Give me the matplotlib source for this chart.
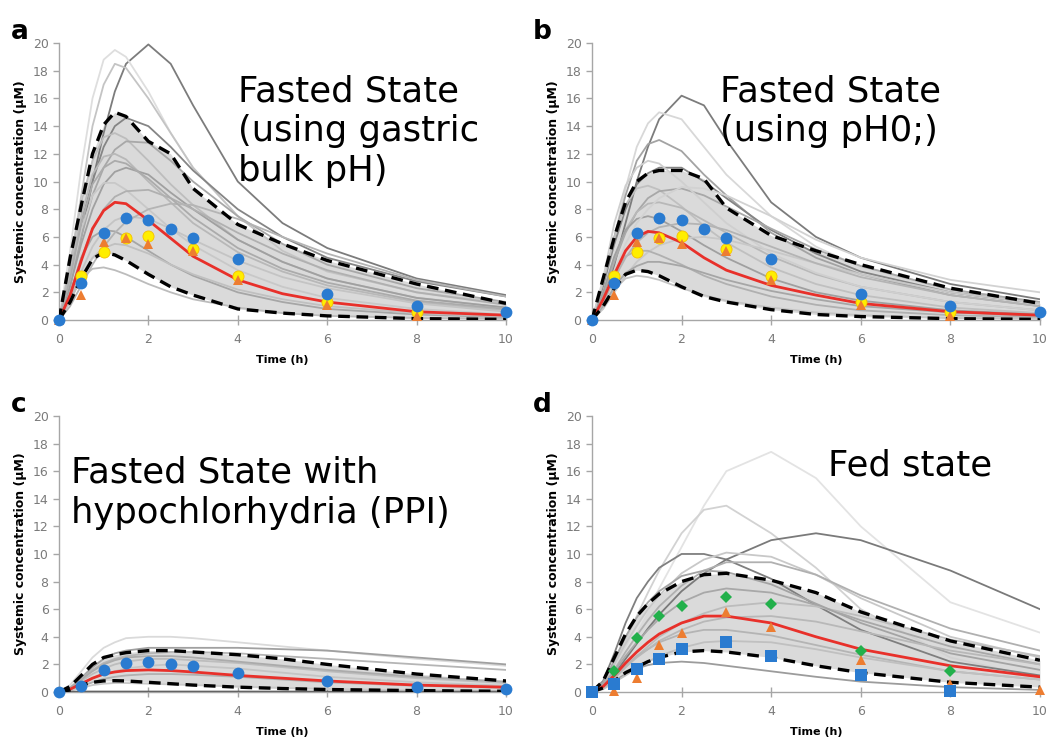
import matplotlib
matplotlib.use("Agg")
import matplotlib.pyplot as plt

##
## data
t = [0, 0.25, 0.5, 0.75, 1, 1.25, 1.5, 2, 2.5, 3, 4, 5, 6, 8, 10]

# panel a - fasted, gastric bulk pH
a_grey = [
    [0, 2.5, 6, 10, 13.5, 16.5, 18.5, 19.9, 18.5, 15.5, 10, 7, 5.2, 3.0, 1.8],
    [0, 5, 11, 16, 18.8, 19.5, 19, 16.5, 13.5, 11, 7.5, 5, 3.5, 1.8, 1.0],
    [0, 4, 9, 14, 17, 18.5, 18.2, 16, 13.5, 11, 7.5, 5, 3.5, 2, 1.2],
    [0, 3, 7, 10, 12.5, 14, 14.6, 14, 12.5, 10.8, 8, 6, 4.5, 2.8, 1.7],
    [0, 4, 8.5, 11.5, 13.2, 13.5, 13.1, 11.5, 9.8, 8.3, 5.8, 4.2, 3.0, 1.6, 0.9],
    [0, 2.5, 6, 9, 11, 12.3, 12.9, 12.8, 11.5, 10, 7.5, 5.5, 4, 2.3, 1.3],
    [0, 3.5, 7.5, 10.5, 11.8, 12, 11.6, 10, 8.5, 7, 4.9, 3.5, 2.5, 1.3, 0.7],
    [0, 2.5, 5.5, 8, 9.8, 10.7, 11, 10.5, 9.2, 8, 5.8, 4.2, 3, 1.6, 0.9],
    [0, 3, 6.5, 9, 9.9, 9.9, 9.4, 8, 6.6, 5.4, 3.6, 2.4, 1.6, 0.8, 0.4],
    [0, 1.8, 4.5, 6.5, 8, 8.9, 9.3, 9.4, 8.8, 8, 6.3, 4.8, 3.6, 2.0, 1.1],
    [0, 1.5, 3.5, 5.3, 6.5, 7.2, 7.5, 7.3, 6.6, 5.8, 4.3, 3.1, 2.3, 1.2, 0.6],
    [0, 2, 4.5, 6, 6.5, 6.4, 6, 5, 4, 3.2, 2, 1.3, 0.8, 0.4, 0.2],
    [0, 1.5, 3, 3.7, 3.8, 3.6, 3.3, 2.6, 2.0, 1.5, 0.9, 0.5, 0.3, 0.15, 0.1],
    [0, 1, 2.5, 4, 5.3, 6.3, 7.1, 8, 8.4, 8.3, 7.3, 6, 4.8, 2.9, 1.7],
    [0, 3, 7, 9.8, 11, 11.5, 11.3, 10.2, 8.8, 7.4, 5.2, 3.7, 2.7, 1.4, 0.8],
    [0, 1.3, 3.2, 4.5, 5.2, 5.5, 5.4, 4.8, 4, 3.3, 2.2, 1.5, 1.0, 0.5, 0.25],
]
a_mean = [0, 1.8, 4.3, 6.6, 7.9, 8.5, 8.4, 7.2, 5.9, 4.6, 2.9, 1.9, 1.3, 0.6, 0.35]
a_hi = [0, 4.5, 8.3, 12, 14.1, 15, 14.7, 12.9, 12, 9.5, 6.9, 5.5, 4.3, 2.6, 1.2]
a_lo = [0, 1.3, 3.0, 4.4, 4.9, 4.7, 4.3, 3.3, 2.4, 1.8, 0.8, 0.5, 0.3, 0.1, 0.05]

# panel b - fasted, pH0
b_grey = [
    [0, 1.5, 4, 7, 10, 12.5, 14.5, 16.2, 15.5, 13, 8.5, 6, 4.5, 2.6, 1.5],
    [0, 2.5, 6, 9.5, 12.5, 14.2, 15, 14.5, 12.5, 10.5, 7.5, 5.3, 3.8, 2.2, 1.3],
    [0, 2.5, 6, 9, 11.5, 12.7, 13, 12.2, 10.5, 9, 6.3, 4.5, 3.3, 1.8, 1.0],
    [0, 2.5, 5.5, 8, 9.8, 10.6, 11, 11, 10, 8.8, 6.5, 4.8, 3.5, 2.0, 1.2],
    [0, 2.7, 6, 8.3, 9.5, 9.7, 9.4, 8.2, 6.8, 5.6, 3.8, 2.6, 1.8, 0.9, 0.5],
    [0, 1.8, 4.2, 6.3, 7.8, 8.8, 9.3, 9.5, 9, 8.2, 6.6, 5.1, 3.9, 2.2, 1.3],
    [0, 2, 4.5, 6.5, 7.8, 8.4, 8.5, 8.1, 7.2, 6.3, 4.6, 3.3, 2.4, 1.3, 0.7],
    [0, 2, 4.6, 6.5, 7.3, 7.5, 7.3, 6.4, 5.4, 4.5, 3.0, 2.0, 1.4, 0.7, 0.4],
    [0, 0.8, 2, 3.2, 4.2, 4.9, 5.4, 5.9, 6.0, 5.8, 5.0, 4.1, 3.3, 2.0, 1.2],
    [0, 1.5, 3.4, 4.6, 5.0, 5.0, 4.7, 4.0, 3.2, 2.6, 1.7, 1.1, 0.7, 0.35, 0.2],
    [0, 1, 2.2, 3, 3.2, 3.1, 2.9, 2.3, 1.8, 1.4, 0.9, 0.55, 0.35, 0.15, 0.1],
    [0, 1, 2.4, 3.4, 3.9, 4.2, 4.2, 3.9, 3.4, 2.9, 2.1, 1.5, 1.0, 0.55, 0.3],
    [0, 3, 7, 9.7, 11, 11.5, 11.3, 10, 8.5, 7, 4.8, 3.4, 2.4, 1.3, 0.7],
    [0, 1.2, 3, 4.5, 5.6, 6.3, 6.7, 7.0, 6.9, 6.5, 5.3, 4.1, 3.1, 1.8, 1.0],
    [0, 1.5, 3.5, 5.5, 7, 8, 8.8, 9.6, 9.5, 9, 7.5, 5.8, 4.5, 2.9, 2.0],
]
b_mean = [0, 1.5, 3.3, 5.0, 6.0, 6.4, 6.3, 5.6, 4.5, 3.6, 2.5, 1.8, 1.2, 0.6, 0.35]
b_hi = [0, 3, 6, 8.5, 10, 10.6, 10.8, 10.8, 10.2, 8.1, 6.1, 5, 4, 2.3, 1.2]
b_lo = [0, 1, 2.3, 3.3, 3.6, 3.5, 3.2, 2.4, 1.7, 1.3, 0.75, 0.4, 0.25, 0.1, 0.05]

# panel c - fasted with hypochlorhydria (PPI)
c_grey = [
    [0, 0.5, 1.5, 2.5, 3.2, 3.6, 3.9, 4.0, 4.0, 3.9, 3.6, 3.3, 3.0, 2.4, 1.9],
    [0, 0.3, 1.0, 1.8, 2.4, 2.8, 3.0, 3.2, 3.2, 3.2, 3.2, 3.1, 3.0, 2.5, 2.0],
    [0, 0.3, 1.0, 1.6, 2.1, 2.4, 2.6, 2.8, 2.9, 2.9, 2.8, 2.6, 2.4, 2.0, 1.6],
    [0, 0.25, 0.8, 1.3, 1.7, 2.0, 2.2, 2.4, 2.4, 2.3, 2.1, 1.8, 1.5, 1.0, 0.65],
    [0, 0.2, 0.6, 1.0, 1.3, 1.5, 1.7, 1.9, 2.0, 1.9, 1.7, 1.4, 1.1, 0.7, 0.45],
    [0, 0.1, 0.4, 0.7, 0.95, 1.1, 1.2, 1.3, 1.3, 1.25, 1.1, 0.9, 0.7, 0.45, 0.3],
    [0, 0.1, 0.3, 0.5, 0.6, 0.65, 0.65, 0.6, 0.55, 0.5, 0.4, 0.3, 0.22, 0.12, 0.07],
    [0, 0.3, 0.9, 1.5, 2.0, 2.3, 2.5, 2.6, 2.6, 2.5, 2.2, 1.9, 1.6, 1.1, 0.75],
    [0, 0.02, 0.03, 0.03, 0.03, 0.03, 0.03, 0.03, 0.03, 0.03, 0.03, 0.03, 0.03, 0.02, 0.02],
]
c_mean = [0, 0.2, 0.6, 1.0, 1.3, 1.45, 1.55, 1.6, 1.55, 1.45, 1.2, 1.0, 0.8, 0.5, 0.35]
c_hi = [0, 0.4, 1.2, 2.0, 2.5, 2.7, 2.85, 3.0, 3.0, 2.9, 2.7, 2.4, 2.0, 1.3, 0.8]
c_lo = [0, 0.15, 0.5, 0.7, 0.8, 0.82, 0.8, 0.7, 0.6, 0.5, 0.35, 0.25, 0.18, 0.1, 0.05]

# panel d - fed state
d_grey = [
    [0, 0.5, 1.5, 3, 4.5, 6, 7.5, 10.5, 13.5, 16, 17.4, 15.5, 12, 6.5, 4.3],
    [0, 0.6, 2, 3.7, 5.5, 7.2, 8.8, 11.5, 13.2, 13.5, 11.5, 9, 6, 2.5, 1.0],
    [0, 0.8, 2.8, 5, 6.8, 8, 9, 10, 10, 9.6, 8.2, 6.3, 4.5, 2.2, 1.2],
    [0, 0.4, 1.3, 2.4, 3.5, 4.6, 5.6, 7.3, 8.6, 9.6, 11, 11.5, 11, 8.8, 6.0],
    [0, 0.6, 2, 3.5, 4.8, 6, 7, 8.6, 9.6, 10.1, 9.8, 8.5, 6.8, 4, 2.5],
    [0, 0.5, 1.6, 2.9, 4.1, 5.2, 6.2, 7.7, 8.8, 9.4, 9.4, 8.5, 7, 4.6, 3.0],
    [0, 0.5, 1.5, 2.6, 3.6, 4.5, 5.3, 6.5, 7.2, 7.5, 7.2, 6.3, 5.2, 3.3, 2.0],
    [0, 0.3, 1, 1.8, 2.6, 3.3, 4, 5, 5.7, 6.2, 6.5, 6.2, 5.5, 3.8, 2.6],
    [0, 0.4, 1.1, 1.9, 2.6, 3.1, 3.6, 4.2, 4.5, 4.5, 4.1, 3.4, 2.7, 1.5, 0.9],
    [0, 0.3, 0.8, 1.3, 1.7, 1.95, 2.1, 2.2, 2.1, 1.9, 1.5, 1.1, 0.75, 0.35, 0.15],
    [0, 0.2, 0.7, 1.2, 1.7, 2.2, 2.6, 3.2, 3.6, 3.7, 3.6, 3.1, 2.5, 1.5, 0.9],
    [0, 0.7, 2.3, 4, 5.4, 6.5, 7.3, 8.4, 8.8, 8.7, 7.8, 6.4, 5.0, 2.8, 1.6],
    [0, 0.3, 1, 1.8, 2.5, 3.1, 3.7, 4.5, 5.1, 5.4, 5.5, 5.1, 4.4, 3.0, 2.0],
]
d_mean = [0, 0.4, 1.2, 2.1, 2.9, 3.6, 4.2, 5.0, 5.5, 5.5, 5.0, 4.0, 3.1, 1.9, 1.1]
d_hi = [0, 0.8, 2.5, 4.2, 5.5, 6.4, 7.1, 8.0, 8.5, 8.6, 8.1, 7.2, 5.8, 3.7, 2.3]
d_lo = [0, 0.3, 0.8, 1.4, 1.8, 2.2, 2.5, 2.9, 3.0, 2.9, 2.5, 1.9, 1.4, 0.7, 0.35]

# observed data, fasted (panels a and b)
obs_blue_t = [0, 0.5, 1, 1.5, 2, 2.5, 3, 4, 6, 8, 10]
obs_blue = [0, 2.7, 6.3, 7.4, 7.2, 6.6, 5.9, 4.4, 1.9, 1.0, 0.6]
obs_orange_t = [0, 0.5, 1, 1.5, 2, 3, 4, 6, 8]
obs_orange = [0, 1.8, 5.6, 5.9, 5.5, 5.0, 2.9, 1.1, 0.3]
obs_yellow_t = [0.5, 1, 1.5, 2, 3, 4, 6, 8]
obs_yellow = [3.2, 4.9, 5.9, 6.1, 5.1, 3.2, 1.3, 0.6]

# observed, PPI (panel c)
ppi_t = [0, 0.5, 1, 1.5, 2, 2.5, 3, 4, 6, 8, 10]
ppi_blue = [0, 0.4, 1.6, 2.1, 2.2, 2.05, 1.9, 1.4, 0.8, 0.35, 0.2]

# observed, fed (panel d)
fed_green_t = [0, 0.5, 1, 1.5, 2, 3, 4, 6, 8]
fed_green = [0, 1.5, 3.9, 5.5, 6.2, 6.9, 6.4, 3.0, 1.5]
fed_orange_t = [0, 0.5, 1, 1.5, 2, 3, 4, 6, 8, 10]
fed_orange = [0, 0.1, 1.0, 3.4, 4.3, 5.8, 4.7, 2.3, 0.6, 0.15]
fed_blue_t = [0, 0.5, 1, 1.5, 2, 3, 4, 6, 8]
fed_blue = [0, 0.6, 1.7, 2.4, 3.1, 3.6, 2.6, 1.2, 0.1]

# line shades for the simulated subjects
shades = {
    'a': ['#7c7c7c', '#dedede', '#c4c4c4', '#858585', '#bdbdbd', '#a8a8a8',
          '#b8b8b8', '#a0a0a0', '#c8c8c8', '#b0b0b0', '#c4c4c4', '#a6a6a6',
          '#bcbcbc', '#b4b4b4', '#ababab', '#c0c0c0'],
    'b': ['#7c7c7c', '#d8d8d8', '#a3a3a3', '#858585', '#c0c0c0', '#a8a8a8',
          '#b8b8b8', '#a0a0a0', '#c8c8c8', '#b0b0b0', '#c4c4c4', '#a6a6a6',
          '#cfcfcf', '#b4b4b4', '#d2d2d2'],
    'c': ['#dadada', '#a0a0a0', '#b5b5b5', '#bdbdbd', '#c4c4c4', '#b0b0b0',
          '#c8c8c8', '#ababab', '#555555'],
    'd': ['#e3e3e3', '#d2d2d2', '#7f7f7f', '#7a7a7a', '#c8c8c8', '#b0b0b0',
          '#a8a8a8', '#bcbcbc', '#b4b4b4', '#9c9c9c', '#c0c0c0', '#a4a4a4',
          '#b8b8b8'],
}

BLUE = '#2a7bd0'
ORANGE = '#ed7d31'
YELLOW = '#ffee00'
GREEN = '#22b04b'
RED = '#e8302a'

fig = plt.figure(figsize=(10.49, 7.46), dpi=100)

boxes = {
    'a': [0.0562, 0.5710, 0.4262, 0.3713],
    'b': [0.5643, 0.5710, 0.4271, 0.3713],
    'c': [0.0562, 0.0724, 0.4262, 0.3700],
    'd': [0.5643, 0.0724, 0.4271, 0.3700],
}
sims = {
    'a': (a_grey, a_mean, a_hi, a_lo),
    'b': (b_grey, b_mean, b_hi, b_lo),
    'c': (c_grey, c_mean, c_hi, c_lo),
    'd': (d_grey, d_mean, d_hi, d_lo),
}
notes = {
    'a': (0.401, 0.888, 'Fasted State\n(using gastric\nbulk pH)'),
    'b': (0.286, 0.888, 'Fasted State\n(using pH0;)'),
    'c': (0.028, 0.855, 'Fasted State with\nhypochlorhydria (PPI)'),
    'd': (0.527, 0.882, 'Fed state'),
}

for key in ['a', 'b', 'c', 'd']:
    ax = fig.add_axes(boxes[key])
    grey, mean, hi, lo = sims[key]

    ax.fill_between(t, lo, hi, color='#dadada', lw=0, zorder=1)
    for i, g in enumerate(grey):
        ax.plot(t, g, color=shades[key][i], lw=1.3, zorder=2)
    ax.plot(t, mean, color=RED, lw=2, zorder=4)
    ax.plot(t, hi, color='black', lw=2.4, ls=(0, (3.5, 2)), zorder=4)
    ax.plot(t, lo, color='black', lw=2.4, ls=(0, (3.5, 2)), zorder=4)

    if key in ('a', 'b'):
        ax.plot(obs_yellow_t, obs_yellow, 'o', color=YELLOW, ms=8, mec='#f5c000', mew=0.6, zorder=5, clip_on=False)
        ax.plot(obs_orange_t, obs_orange, '^', color=ORANGE, ms=7, mew=0, zorder=6, clip_on=False)
        ax.plot(obs_blue_t, obs_blue, 'o', color=BLUE, ms=8.5, mew=0, zorder=7, clip_on=False)
    elif key == 'c':
        ax.plot(ppi_t, ppi_blue, 'o', color=BLUE, ms=8.5, mew=0, zorder=7, clip_on=False)
    else:
        ax.plot(fed_green_t, fed_green, 'D', color=GREEN, ms=6, mew=0, zorder=5, clip_on=False)
        ax.plot(fed_orange_t, fed_orange, '^', color=ORANGE, ms=7, mew=0, zorder=6, clip_on=False)
        ax.plot(fed_blue_t, fed_blue, 's', color=BLUE, ms=8, mew=0, zorder=7, clip_on=False)

    ax.set_xlim(0, 10)
    ax.set_ylim(0, 20)
    ax.set_xticks([0, 2, 4, 6, 8, 10])
    ax.set_yticks(range(0, 21, 2))
    for s in ['top', 'right']:
        ax.spines[s].set_visible(False)
    for s in ['left', 'bottom']:
        ax.spines[s].set_color('#a6a6a6')
        ax.spines[s].set_linewidth(1)
    ax.tick_params(axis='x', direction='inout', length=7, width=1, color='#a6a6a6',
                   labelsize=9, labelcolor='#7a7a7a', pad=6)
    ax.tick_params(axis='y', direction='out', length=4, width=1, color='#a6a6a6',
                   labelsize=9, labelcolor='#7a7a7a')
    ax.set_xlabel('Time (h)', fontsize=8, fontweight='bold', labelpad=6)
    ax.set_ylabel('Systemic concentration (µM)', fontsize=9, fontweight='bold', labelpad=4)

    nx, ny, txt = notes[key]
    ax.text(nx, ny, txt, transform=ax.transAxes, fontsize=25.5, va='top', ha='left',
            linespacing=1.22, zorder=8)

fig.text(0.010, 0.975, 'a', fontsize=19, fontweight='bold', va='top')
fig.text(0.508, 0.975, 'b', fontsize=19, fontweight='bold', va='top')
fig.text(0.010, 0.475, 'c', fontsize=19, fontweight='bold', va='top')
fig.text(0.508, 0.475, 'd', fontsize=19, fontweight='bold', va='top')

plt.savefig('out.png', dpi=100)
